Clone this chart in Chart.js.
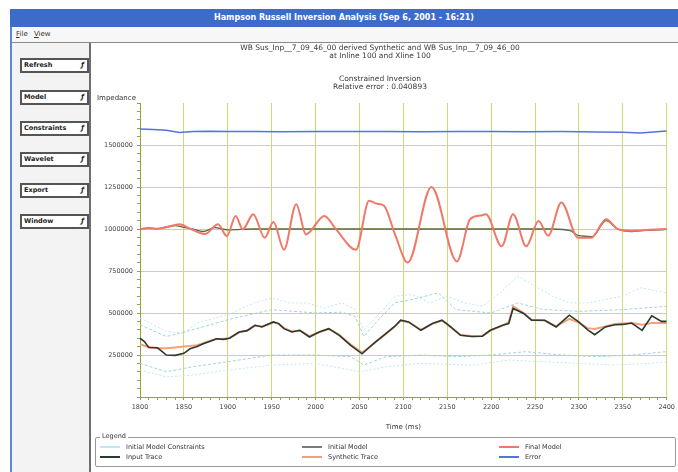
<!DOCTYPE html>
<html>
<head>
<meta charset="utf-8">
<title>Inversion Analysis</title>
<script src="https://cdn.jsdelivr.net/npm/chart.js@4.4.1/dist/chart.umd.min.js"></script>
<style>
  html, body { margin: 0; padding: 0; background: #fff; }
  body { width: 678px; height: 472px; position: relative; overflow: hidden;
         font-family: "DejaVu Sans", sans-serif; color: #333; }
  .abs { position: absolute; }
  #winBorder { left: 10px; top: 9px; width: 2px; height: 463px; background: #5b87d8; }
  #titleBar { left: 10px; top: 9px; width: 668px; height: 18px; background: #3d6cc8;
              color: #fff; font-weight: bold; font-size: 8px; line-height: 18px; text-align: center; }
  #menuBar { left: 12px; top: 27px; width: 666px; height: 15px; background: #f7f7f7;
             font-size: 7px; line-height: 15px; }
  #menuBar span { margin-left: 4px; }
  #menuLine { left: 12px; top: 42px; width: 666px; height: 1px; background: #8a8a8a; }
  #sidePanel { left: 12px; top: 43px; width: 77px; height: 429px; background: #f3f3f3;
               border-right: 2px solid #6e6e6e; }
  .btn { left: 20px; width: 63px; height: 11px; border: 2px solid #555; background: #fff;
         font-size: 6.5px; font-weight: bold; line-height: 11px; padding-left: 2px; color: #222; }
  .btn i { position: absolute; right: 3px; top: 0; font-size: 7px; }
  #chartBox { left: 91px; top: 43px; width: 587px; height: 392px; }
  #yTitle { left: 97px; top: 94px; font-size: 7px; color: #333; }
  #legendBox { left: 95px; top: 437px; width: 579px; height: 28px; border: 1px solid #999;
               border-radius: 2px; }
  #legendTitle { left: 100px; top: 432px; font-size: 6.5px; background: #fff; padding: 0 2px; }
  .leg { font-size: 6.5px; line-height: 8px; white-space: nowrap; }
  .leg b { display: inline-block; width: 20px; height: 0; vertical-align: middle;
           margin-right: 6px; border-top: 2px solid; }
</style>
</head>
<body>
<div id="winBorder" class="abs"></div>
<div id="titleBar" class="abs">Hampson Russell Inversion Analysis (Sep 6, 2001 - 16:21)</div>
<div id="menuBar" class="abs"><span><u>F</u>ile</span> <span><u>V</u>iew</span></div>
<div id="menuLine" class="abs"></div>
<div id="sidePanel" class="abs"></div>
<div id="buttons"></div>
<div id="chartBox" class="abs"><canvas id="chart" width="587" height="392"></canvas></div>
<div id="yTitle" class="abs">Impedance</div>
<div id="legendBox" class="abs"></div>
<div id="legendTitle" class="abs">Legend</div>
<div id="legendItems"></div>

<script>
// Side panel buttons
const BUTTON_LABELS = ['Refresh', 'Model', 'Constraints', 'Wavelet', 'Export', 'Window'];
const BUTTON_TOPS = [58, 90, 121, 152, 183, 214];

// Chart titles
const TITLE_LINES = ['WB Sus_Inp__7_09_46_00 derived Synthetic and WB Sus_Inp__7_09_46_00', 'at Inline 100 and Xline 100'];
const SUBTITLE_LINES = ['Constrained Inversion', 'Relative error : 0.040893'];

// Axis settings (Time in ms, Impedance)
const X_MIN = 1800, X_MAX = 2400, X_LABEL_STEP = 50, X_MINOR = 10;
const Y_MIN = 0, Y_MAX = 1750000, Y_LABEL_STEP = 250000, Y_MINOR = 50000;

// Error
const errorTimes = [1800, 1815, 1830, 1845, 1860, 1880, 1900, 1930, 1960, 2000, 2040, 2080, 2120, 2160, 2200, 2240, 2280, 2320, 2350, 2370, 2385, 2400];
const errorValues = [1595000, 1592000, 1588000, 1575000, 1580000, 1582000, 1580000, 1581000, 1579000, 1580000, 1581000, 1580000, 1579000, 1581000, 1580000, 1579000, 1580000, 1578000, 1576000, 1572000, 1578000, 1584000];

// Final model
const finalTimes = [1800, 1810, 1820, 1830, 1845, 1858, 1874, 1889, 1899, 1909, 1917, 1929, 1942, 1952, 1964, 1978, 1989, 2010, 2023, 2046, 2061, 2070, 2078, 2091, 2105, 2132, 2161, 2176, 2188, 2194, 2212, 2225, 2240, 2254, 2265, 2280, 2299, 2314, 2331, 2344, 2360, 2380, 2400];
const finalModel = [1000000, 1005000, 1002000, 1010000, 1028000, 1000000, 970000, 1028000, 957000, 1078000, 998000, 1088000, 948000, 1042000, 877000, 1148000, 968000, 1078000, 1000000, 877000, 1168000, 1150000, 1138000, 960000, 800000, 1250000, 807000, 1058000, 1080000, 1088000, 897000, 1088000, 897000, 1048000, 960000, 1158000, 948000, 948000, 1058000, 1000000, 990000, 995000, 1000000];

// Initial model
const initialTimes = [1800, 1810, 1820, 1830, 1840, 1850, 1860, 1872, 1885, 1900, 1930, 2000, 2100, 2200, 2270, 2290, 2300, 2315, 2331, 2344, 2360, 2375, 2390, 2400];
const initialModel = [1000000, 1006000, 1002000, 1012000, 1020000, 1010000, 1000000, 985000, 1008000, 995000, 1000000, 1000000, 1000000, 1000000, 1000000, 990000, 960000, 955000, 1050000, 1000000, 985000, 992000, 995000, 998000];

// Input trace and synthetic trace
const traceTimes = [1800, 1805, 1810, 1820, 1825, 1830, 1840, 1850, 1857, 1865, 1872, 1880, 1887, 1895, 1902, 1913, 1922, 1931, 1939, 1945, 1952, 1958, 1964, 1973, 1982, 1993, 2004, 2015, 2027, 2040, 2053, 2060, 2068, 2080, 2090, 2097, 2106, 2120, 2133, 2144, 2154, 2165, 2178, 2190, 2199, 2213, 2220, 2225, 2237, 2246, 2261, 2274, 2289, 2299, 2310, 2318, 2330, 2341, 2350, 2360, 2372, 2383, 2394, 2400];
const inputTrace = [350000, 330000, 295000, 293000, 272000, 250000, 248000, 260000, 287000, 300000, 317000, 332000, 347000, 343000, 350000, 387000, 395000, 427000, 417000, 432000, 447000, 437000, 407000, 387000, 397000, 357000, 387000, 407000, 367000, 307000, 257000, 290000, 327000, 377000, 420000, 457000, 447000, 397000, 437000, 457000, 417000, 367000, 360000, 362000, 397000, 427000, 437000, 527000, 497000, 457000, 457000, 417000, 487000, 450000, 400000, 371000, 417000, 430000, 432000, 440000, 397000, 483000, 450000, 450000];
const syntheticTrace = [315000, 305000, 298000, 292000, 290000, 290000, 295000, 300000, 303000, 308000, 320000, 335000, 345000, 345000, 352000, 385000, 395000, 425000, 420000, 430000, 445000, 435000, 410000, 390000, 395000, 362000, 385000, 405000, 370000, 312000, 265000, 292000, 325000, 375000, 418000, 455000, 445000, 400000, 435000, 455000, 415000, 370000, 362000, 365000, 395000, 425000, 445000, 540000, 500000, 460000, 455000, 420000, 465000, 445000, 410000, 405000, 420000, 435000, 438000, 440000, 430000, 440000, 440000, 440000];

// Initial model constraints (outer and inner bounds)
const upperOuterTimes = [1800, 1815, 1830, 1850, 1865, 1885, 1905, 1930, 1950, 1970, 1990, 2010, 2030, 2045, 2055, 2070, 2090, 2110, 2130, 2150, 2170, 2190, 2210, 2230, 2250, 2270, 2290, 2310, 2330, 2350, 2370, 2390, 2400];
const upperOuter = [470000, 430000, 390000, 380000, 440000, 470000, 500000, 560000, 590000, 560000, 560000, 530000, 560000, 520000, 400000, 480000, 600000, 610000, 560000, 600000, 560000, 540000, 620000, 720000, 660000, 600000, 560000, 560000, 580000, 600000, 650000, 630000, 620000];
const upperInnerTimes = [1800, 1830, 1860, 1900, 1950, 2000, 2030, 2045, 2055, 2070, 2090, 2110, 2140, 2160, 2200, 2230, 2260, 2300, 2350, 2400];
const upperInner = [430000, 360000, 400000, 460000, 520000, 500000, 505000, 480000, 360000, 450000, 560000, 580000, 620000, 520000, 500000, 560000, 520000, 510000, 520000, 540000];
const lowerInnerTimes = [1800, 1830, 1860, 1900, 1950, 2000, 2040, 2055, 2080, 2120, 2160, 2200, 2240, 2280, 2320, 2360, 2400];
const lowerInner = [200000, 150000, 180000, 210000, 250000, 250000, 240000, 190000, 240000, 250000, 240000, 250000, 270000, 250000, 240000, 250000, 270000];
const lowerOuterTimes = [1800, 1830, 1860, 1900, 1950, 2000, 2050, 2080, 2120, 2180, 2220, 2260, 2300, 2340, 2380, 2400];
const lowerOuter = [160000, 120000, 130000, 160000, 190000, 200000, 150000, 180000, 200000, 190000, 220000, 210000, 200000, 190000, 200000, 210000];

// Colors
const COLORS = {
  constraint: '#bfe8f3',
  constraintInner: '#9fd6d6',
  initial: '#59683a',
  final: '#f07868',
  input: '#2b3a2e',
  synthetic: '#f5a07a',
  error: '#5474d8',
  grid: '#cfdb72',
  axis: '#93a03c'
};

// Legend entries (3 columns x 2 rows)
const LEGEND = [
  ['Initial Model Constraints', COLORS.constraint], ['Initial Model', '#7a7a7a'], ['Final Model', COLORS.final],
  ['Input Trace', COLORS.input], ['Synthetic Trace', COLORS.synthetic], ['Error', COLORS.error]
];
const LEGEND_COLS = [100, 302, 499];
const LEGEND_ROWS = [443, 453];

function pairs(xs, ys) {
  return xs.map((x, i) => ({ x: x, y: ys[i] }));
}

// tick values come back as floats, round before testing for labels
function isMajor(v, step) {
  return Math.round(v) % step === 0;
}

// Build side buttons
const buttonsEl = document.getElementById('buttons');
BUTTON_LABELS.forEach((label, i) => {
  const b = document.createElement('div');
  b.className = 'abs btn';
  b.style.top = BUTTON_TOPS[i] + 'px';
  b.innerHTML = label + '<i>ƒ</i>';
  buttonsEl.appendChild(b);
});

// Build legend
const legendEl = document.getElementById('legendItems');
LEGEND.forEach((item, i) => {
  const d = document.createElement('div');
  d.className = 'abs leg';
  d.style.left = LEGEND_COLS[i % 3] + 'px';
  d.style.top = LEGEND_ROWS[Math.floor(i / 3)] + 'px';
  d.innerHTML = '<b style="border-color:' + item[1] + '"></b>' + item[0];
  legendEl.appendChild(d);
});

function lineSet(label, data, color, width, extra) {
  return Object.assign({
    label: label,
    data: data,
    borderColor: color,
    borderWidth: width,
    pointRadius: 0,
    fill: false,
    tension: 0
  }, extra || {});
}

const datasets = [
  lineSet('Input Trace', pairs(traceTimes, inputTrace), COLORS.input, 1.6),
  lineSet('Final Model', pairs(finalTimes, finalModel), COLORS.final, 2, { cubicInterpolationMode: 'monotone' }),
  lineSet('Synthetic Trace', pairs(traceTimes, syntheticTrace), COLORS.synthetic, 2),
  lineSet('Initial Model', pairs(initialTimes, initialModel), COLORS.initial, 1.3, { cubicInterpolationMode: 'monotone' }),
  lineSet('Error', pairs(errorTimes, errorValues), COLORS.error, 1.5),
  lineSet('Initial Model Constraints', pairs(upperInnerTimes, upperInner), COLORS.constraintInner, 1, { borderDash: [3, 2] }),
  lineSet('Initial Model Constraints', pairs(lowerInnerTimes, lowerInner), COLORS.constraintInner, 1, { borderDash: [3, 2] }),
  lineSet('Initial Model Constraints', pairs(upperOuterTimes, upperOuter), COLORS.constraint, 1, { borderDash: [2, 2] }),
  lineSet('Initial Model Constraints', pairs(lowerOuterTimes, lowerOuter), COLORS.constraint, 1, { borderDash: [2, 2] })
];

const tickFont = { family: 'DejaVu Sans', size: 6.5 };

new Chart(document.getElementById('chart'), {
  type: 'line',
  data: { datasets: datasets },
  options: {
    responsive: false,
    animation: false,
    layout: { padding: { left: 0, right: 9, top: 0, bottom: 0 } },
    plugins: {
      legend: { display: false },
      tooltip: { enabled: false },
      title: {
        display: true,
        text: TITLE_LINES,
        color: '#3a3a3a',
        font: { family: 'DejaVu Sans', size: 7.5, weight: 'normal', lineHeight: 1.1 },
        padding: { top: 1, bottom: 14 }
      },
      subtitle: {
        display: true,
        text: SUBTITLE_LINES,
        color: '#3a3a3a',
        font: { family: 'DejaVu Sans', size: 7.5, lineHeight: 1.1 },
        padding: { top: 0, bottom: 12 }
      }
    },
    scales: {
      x: {
        type: 'linear',
        min: X_MIN,
        max: X_MAX,
        border: { color: COLORS.axis, width: 1 },
        grid: {
          color: ctx => (ctx.tick && isMajor(ctx.tick.value, X_LABEL_STEP) && ctx.tick.value > X_MIN) ? COLORS.grid : 'rgba(0,0,0,0)',
          lineWidth: 1,
          tickColor: COLORS.axis,
          tickLength: 3
        },
        ticks: {
          stepSize: X_MINOR,
          autoSkip: false,
          maxTicksLimit: 200,
          maxRotation: 0,
          padding: 3,
          color: '#444',
          font: tickFont,
          callback: v => (isMajor(v, X_LABEL_STEP) ? String(Math.round(v)) : '')
        },
        title: {
          display: true,
          text: 'Time (ms)',
          color: '#333',
          font: { family: 'DejaVu Sans', size: 7 },
          padding: { top: 2, bottom: 4 }
        },
        afterFit: s => { s.height = 38; }
      },
      y: {
        min: Y_MIN,
        max: Y_MAX,
        border: { color: COLORS.axis, width: 1 },
        grid: {
          color: ctx => (ctx.tick && isMajor(ctx.tick.value, Y_LABEL_STEP) && ctx.tick.value > Y_MIN && ctx.tick.value < Y_MAX - 1) ? COLORS.grid : 'rgba(0,0,0,0)',
          lineWidth: 1,
          tickColor: COLORS.axis,
          tickLength: 3
        },
        ticks: {
          stepSize: Y_MINOR,
          autoSkip: false,
          maxTicksLimit: 200,
          padding: 4,
          color: '#444',
          font: tickFont,
          callback: v => (isMajor(v, Y_LABEL_STEP) && v > Y_MIN && v < Y_MAX - 1 ? String(Math.round(v)) : '')
        },
        afterFit: s => { s.width = 49; }
      }
    }
  }
});
</script>
</body>
</html>
